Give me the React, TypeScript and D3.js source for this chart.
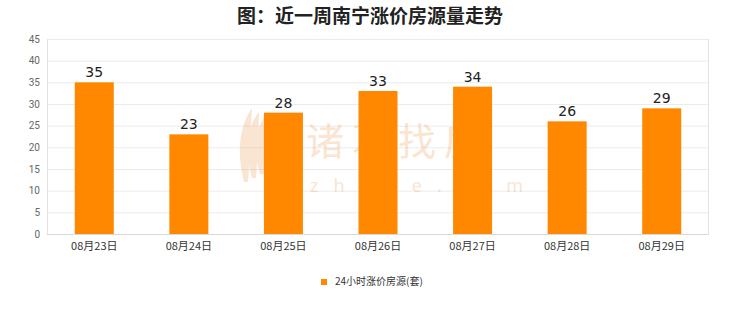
import React from "react";
import * as d3 from "d3";

const categories = ["08月23日", "08月24日", "08月25日", "08月26日", "08月27日", "08月28日", "08月29日"];
const values = [35, 23, 28, 33, 34, 26, 29];
const yTicks = [0, 5, 10, 15, 20, 25, 30, 35, 40, 45];
const title = "图：近一周南宁涨价房源量走势";
const seriesName = "24小时涨价房源(套)";

export default function App() {
  const W = 740, H = 312;
  const left = 47, right = 709, top = 39, bottom = 234;
  const x = d3.scaleBand<string>().domain(categories).range([left, right]).paddingInner(0).paddingOuter(0);
  const y = d3.scaleLinear().domain([0, 45]).range([bottom, top]);
  const bw = 39;
  return (
    <div style={{ position: "fixed", left: 0, top: 0, width: W, height: H, background: "#fff" }}>
      <svg width={W} height={H} style={{ display: "block" }}>
        <rect x={0} y={0} width={W} height={H} fill="#fff" />
        <text x={370} y={23} textAnchor="middle" fontSize={19} fontWeight="bold" fill="#222"
          fontFamily="'Noto Sans CJK SC', sans-serif">{title}</text>
        {yTicks.map((t) => (
          <g key={t}>
            <line x1={left} x2={right} y1={y(t) + 0.5} y2={y(t) + 0.5} stroke={t === 0 ? "#d8d8d8" : "#ebebeb"} strokeWidth={1} />
            <text x={40} y={y(t) + 3.5} textAnchor="end" fontSize={10} fill="#666"
              fontFamily="Roboto, 'Noto Sans', sans-serif">{t}</text>
          </g>
        ))}
        <line x1={left + 0.5} x2={left + 0.5} y1={top} y2={bottom} stroke="#e3e3e3" />
        <line x1={right - 0.5} x2={right - 0.5} y1={top} y2={bottom} stroke="#e3e3e3" />
        {/* watermark */}
        <g opacity={0.28}>
          <text x={306} y={155} fontSize={38} fill="#f0a060" letterSpacing={8}
            fontFamily="'Noto Sans CJK SC', sans-serif">诸葛找房</text>
          <text x={310} y={192} fontSize={18} fill="#f0a060" letterSpacing={15}
            fontFamily="'Noto Sans', sans-serif">zhuge.com</text>
          {[0, 1, 2].map((k) => (
            <path key={k} d={`M${244 + k * 8},${182 - k * 4} C${236 + k * 8},${150} ${240 + k * 8},${125} ${252 + k * 7},${108 + k * 4} C${250 + k * 8},${135} ${250 + k * 8},${160} ${248 + k * 8},${182 - k * 4} Z`}
              fill="#f0a060" />
          ))}
        </g>
        {categories.map((c, i) => {
          const cx = (x(c) as number) + x.bandwidth() / 2;
          return (
            <g key={c}>
              <rect x={cx - bw / 2} y={y(values[i])} width={bw} height={bottom - y(values[i])} fill="#ff8800" />
              <text x={cx} y={y(values[i]) - 5} textAnchor="middle" fontSize={14} fill="#222"
                fontFamily="'DejaVu Sans', sans-serif">{values[i]}</text>
              <text x={cx} y={250} textAnchor="middle" fontSize={11} fill="#333"
                fontFamily="'Noto Sans CJK SC', 'Liberation Serif', serif">{c}</text>
            </g>
          );
        })}
        <rect x={321} y={279} width={6} height={6} fill="#ff8800" />
        <text x={335} y={285} fontSize={10} fill="#333"
          fontFamily="'Noto Sans CJK SC', serif">{seriesName}</text>
      </svg>
    </div>
  );
}
